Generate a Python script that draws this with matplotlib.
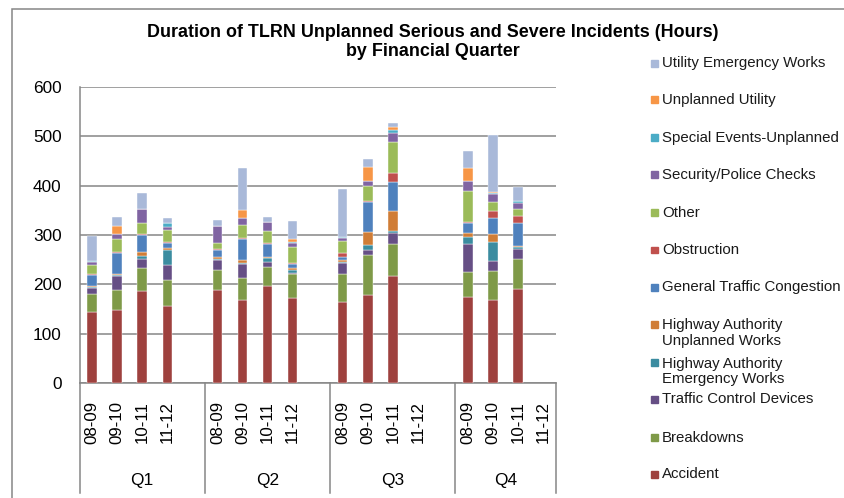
import numpy as np
import matplotlib.pyplot as plt
from matplotlib.patches import Rectangle
from matplotlib.lines import Line2D

plt.rcParams['font.family'] = ['Liberation Sans', 'DejaVu Sans']

quarters = ['Q1', 'Q2', 'Q3', 'Q4']
years = ['08-09', '09-10', '10-11', '11-12']

# values in hours, order: Q1 (08-09..11-12), Q2, Q3, Q4 ; nan = no data
nan = np.nan
accident = [143, 147, 186.5, 156, 189, 167.6, 197, 173, 164, 178, 217, nan, 174.6, 169, 191.5, nan]
breakdowns = [38, 42, 47, 53, 40, 44.6, 39, 47, 56, 80.5, 64, nan, 50, 59, 59, nan]
traffic_control = [11, 28, 18, 30, 19.6, 28.4, 9, 3.4, 23, 11, 24, nan, 58, 19.6, 22, nan]
ha_emergency = [3, 2.5, 5, 31, 2, 2.7, 7.4, 4.7, 2.7, 11, 3.4, nan, 14, 38.6, 2.7, nan]
ha_unplanned = [2, 1, 9.5, 3, 5.4, 6.8, 2, 4, 3.4, 25, 41, nan, 8, 15.6, 2, nan]
congestion = [22, 43, 34, 11, 14, 41, 28, 9.5, 6.8, 61, 58, nan, 19.6, 33, 47, nan]
obstruction = [1, 3, 3, 1, 2, 2.7, 1.5, 1.4, 6.8, 1.5, 19, nan, 1.4, 14, 14, nan]
other = [20, 25, 22, 26, 11.5, 25.7, 24, 32, 25.7, 32, 61.5, nan, 64, 17.6, 14, nan]
security = [6, 10, 27, 5, 35, 15.5, 19, 8, 5.4, 9, 19, nan, 19, 17, 12, nan]
special_events = [2, 0, 0, 9, 0, 0, 0, 3.4, 2, 0, 6.8, nan, 0, 1.4, 5, nan]
unplanned_utility = [0, 17, 0, 0, 0, 15, 0, 4.7, 0, 28, 5.4, nan, 27.7, 2, 0, nan]
utility_emergency = [50, 17, 34, 9, 11.5, 85, 9, 36.5, 98, 17, 7.4, nan, 33, 115, 29, nan]

series = [accident, breakdowns, traffic_control, ha_emergency, ha_unplanned,
          congestion, obstruction, other, security, special_events,
          unplanned_utility, utility_emergency]
labels = ['Accident', 'Breakdowns', 'Traffic Control Devices',
          'Highway Authority\nEmergency Works', 'Highway Authority\nUnplanned Works',
          'General Traffic Congestion', 'Obstruction', 'Other',
          'Security/Police Checks', 'Special Events-Unplanned',
          'Unplanned Utility', 'Utility Emergency Works']
colors = ['#9E413E', '#7F9A48', '#664F85', '#3B8CA0', '#D07D36', '#4F81BD',
          '#C0504D', '#9BBB59', '#8064A2', '#4BACC6', '#F79646', '#A9B9D9']
# legend first-line centre, pixels from top
legend_y = [474, 437.7, 399.3, 362.7, 324.3, 287.3, 250, 212.7, 175, 137.7, 100, 63.3]

W, H = 844, 498
fig = plt.figure(figsize=(W / 100, H / 100), dpi=100)
ax = fig.add_axes([79.6 / W, 1 - 383 / H, (555.7 - 79.6) / W, (383 - 87) / H])

# 5 slots per quarter (last one blank), Q4 has no trailing blank
xpos = np.array([q * 5 + y for q in range(4) for y in range(4)])
bottom = np.zeros(len(xpos))
for vals, lab, col in zip(series, labels, colors):
    v = np.array(vals, dtype=float)
    ax.bar(xpos, v, 0.38, bottom=bottom, color=col, edgecolor='white',
           linewidth=0.3, zorder=3)
    bottom = bottom + np.nan_to_num(v)

ax.set_xlim(-0.5, 18.5)
ax.set_ylim(0, 600)
ax.set_yticks(range(0, 601, 100))
ax.yaxis.grid(True, color='#868686', linewidth=1.1, zorder=0)
ax.tick_params(axis='y', length=0, pad=13, labelsize=12.4)
ax.tick_params(axis='x', length=0, pad=13, labelsize=12.2, labelrotation=90)
ax.set_xticks(xpos)
ax.set_xticklabels([y for q in quarters for y in years], va='top')
for s in ['top', 'right']:
    ax.spines[s].set_visible(False)
for s in ['left', 'bottom']:
    ax.spines[s].set_color('#868686')
    ax.spines[s].set_linewidth(1.1)

# multi-level category axis
for xb in [-0.5, 4.5, 9.5, 14.5, 18.5]:
    ax.add_line(Line2D([xb, xb], [0, -0.372], transform=ax.get_xaxis_transform(),
                       color='#868686', linewidth=1.1, clip_on=False))
for i, q in enumerate(quarters):
    xc = (i * 5 - 0.5 + min(i * 5 + 4.5, 18.5)) / 2
    ax.text(xc, -0.328, q, transform=ax.get_xaxis_transform(), ha='center',
            va='center', fontsize=12.4)

fig.text(432.5 / W, 1 - 42.3 / H,
         'Duration of TLRN Unplanned Serious and Severe Incidents (Hours)\nby Financial Quarter',
         ha='center', va='center', fontsize=12.9, fontweight='bold', linespacing=1.15)

# legend
step = 17.4
for lab, col, yy in zip(labels, colors, legend_y):
    n = lab.count('\n') + 1
    fig.patches.append(Rectangle((651 / W, 1 - (yy + 3.5) / H), 7 / W, 7 / H,
                                 transform=fig.transFigure, color=col))
    fig.text(662 / W, 1 - (yy + (n - 1) * step / 2) / H, lab, ha='left',
             va='center', fontsize=10.8, linespacing=1.15, color='#1a1a1a')

# outer chart frame
fig.patches.append(Rectangle((12 / W, -0.1), 1.2, 1.1 - 9 / H, fill=False,
                             edgecolor='#868686', linewidth=1.1,
                             transform=fig.transFigure))

fig.savefig('out.png', dpi=100)
